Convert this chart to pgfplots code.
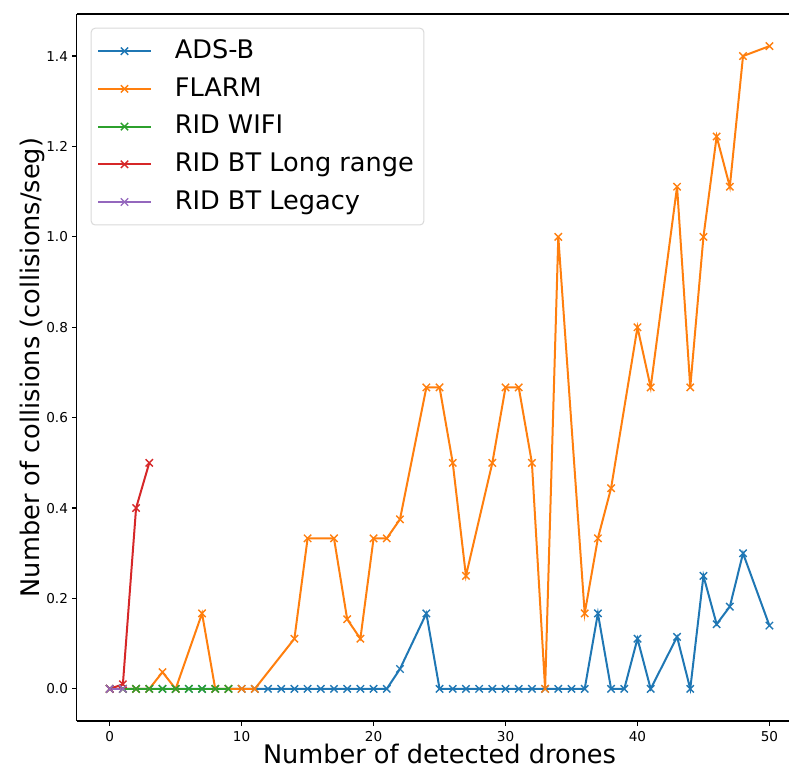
\documentclass[border=0pt]{standalone}
\usepackage{fontspec}
\setmainfont{DejaVu Sans}
\usepackage{pgfplots}
\pgfplotsset{compat=1.18}

\definecolor{tabblue}{HTML}{1F77B4}
\definecolor{taborange}{HTML}{FF7F0E}
\definecolor{tabgreen}{HTML}{2CA02C}
\definecolor{tabred}{HTML}{D62728}
\definecolor{tabpurple}{HTML}{9467BD}

\begin{document}
\begin{tikzpicture}
\begin{axis}[
    name=ax,
    scale only axis,
    width=362.85bp,
    height=353.5bp,
    xmin=-2.5, xmax=52.5,
    ymin=-0.0711, ymax=1.4931,
    axis y line*=left,
    xtick={0,10,20,30,40,50},
    ytick={0,0.2,0.4,0.6,0.8,1.0,1.2,1.4},
    tick align=outside,
    major tick length=2.25bp,
    tick style={black, line width=0.6bp},
    xtick pos=bottom,
    ytick pos=left,
    axis line style={black, line width=0.6bp},
    ticklabel style={font=\fontsize{6.8bp}{8bp}\selectfont},
    /pgf/number format/assume math mode=true,
    yticklabel style={/pgf/number format/.cd, fixed, fixed zerofill, precision=1},
    xticklabel shift=-0.5bp,
    yticklabel shift=-1.4bp,
    xlabel={Number of detected drones},
    ylabel={Number of collisions (collisions/seg)},
    label style={font=\fontsize{12.8bp}{15bp}\selectfont},
    xlabel style={at={(axis description cs:0.5,-0.0608)}, anchor=base},
    ylabel style={at={(axis description cs:-0.0519,0.5)}, anchor=base},
    every axis plot/.append style={line width=1bp, mark=x, mark size=2.6bp, mark options={solid, line width=0.7bp}},
    legend image code/.code={\draw[mark repeat=2, mark phase=2, #1] plot coordinates {(0bp,0bp) (13.15bp,0bp) (26.3bp,0bp)};},
    legend cell align=left,
    legend style={
        at={(axis description cs:0,1)}, anchor=north west,
        xshift=7bp, yshift=-6.85bp,
        draw=black!15, line width=0.5bp, rounded corners=2bp,
        font=\fontsize{12.8bp}{15bp}\selectfont,
        inner xsep=3bp, inner ysep=3.5bp,
        column sep=9.5bp, row sep=2.85bp,
        nodes={inner sep=2bp, text height=9.6bp, text depth=2.4bp},
    },
]
% ADS-B
\addplot[color=tabblue] coordinates {
(0,0) (1,0) (2,0) (3,0) (4,0) (5,0) (6,0) (7,0) (8,0) (9,0) (10,0)
(11,0) (12,0) (13,0) (14,0) (15,0) (16,0) (17,0) (18,0) (19,0) (20,0) (21,0)
(22,0.044) (24,0.167) (25,0) (26,0) (27,0) (28,0) (29,0) (30,0) (31,0)
(32,0) (33,0) (34,0) (35,0) (36,0) (37,0.167) (38,0) (39,0) (40,0.111)
(41,0) (43,0.115) (44,0) (45,0.25) (46,0.143) (47,0.182) (48,0.3) (50,0.14)
};
\addlegendentry{ADS-B}
% FLARM
\addplot[color=taborange] coordinates {
(0,0) (1,0) (2,0) (3,0) (4,0.037) (5,0) (7,0.167) (8,0) (9,0) (10,0) (11,0)
(14,0.111) (15,0.333) (17,0.333) (18,0.154) (19,0.111) (20,0.333) (21,0.333)
(22,0.375) (24,0.667) (25,0.667) (26,0.5) (27,0.25) (29,0.5) (30,0.667)
(31,0.667) (32,0.5) (33,0) (34,1.0) (36,0.167) (37,0.333) (38,0.444)
(40,0.8) (41,0.667) (43,1.111) (44,0.667) (45,1.0) (46,1.222) (47,1.111)
(48,1.4) (50,1.422)
};
\addlegendentry{FLARM}
% RID WIFI
\addplot[color=tabgreen] coordinates {
(0,0) (1,0) (2,0) (3,0) (4,0) (5,0) (6,0) (7,0) (8,0) (9,0)
};
\addlegendentry{RID WIFI}
% RID BT Long range
\addplot[color=tabred] coordinates {
(0,0) (1,0.01) (2,0.4) (3,0.5)
};
\addlegendentry{RID BT Long range}
% RID BT Legacy
\addplot[color=tabpurple] coordinates {
(0,0) (1,0)
};
\addlegendentry{RID BT Legacy}
\end{axis}
\pgfresetboundingbox
\path ([shift={(-38.35bp,-24bp)}]ax.south west) rectangle ([shift={(-6.7bp,7bp)}]ax.north east);
\end{tikzpicture}
\end{document}
